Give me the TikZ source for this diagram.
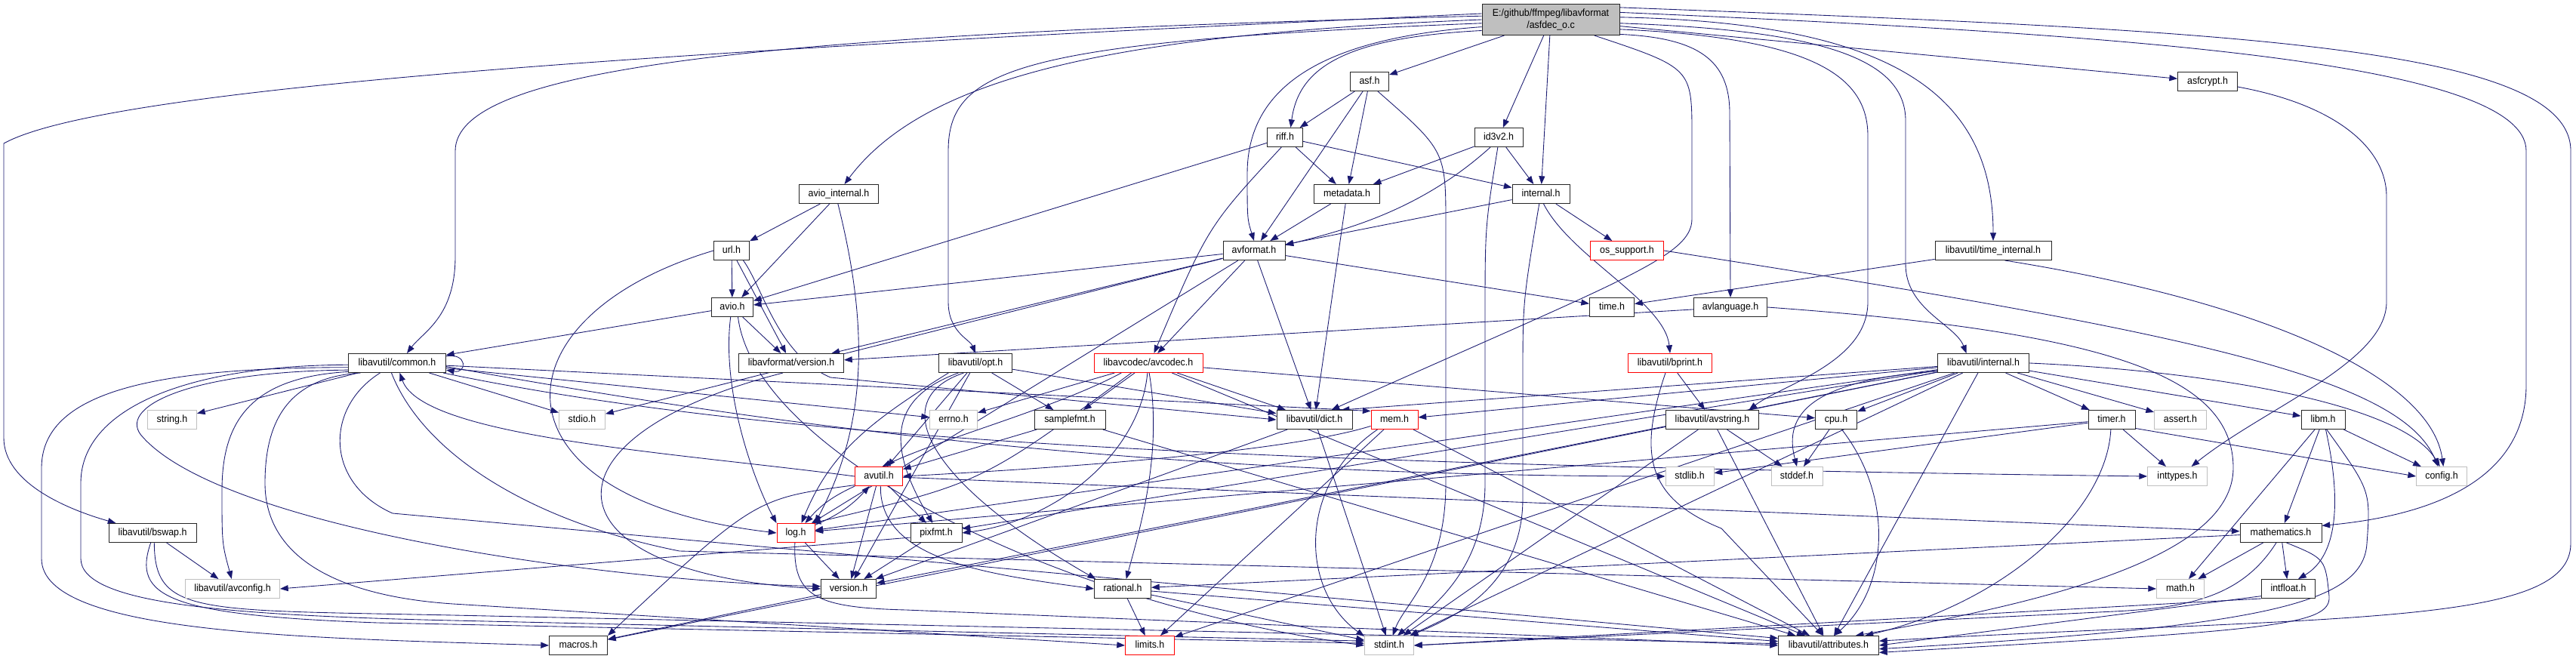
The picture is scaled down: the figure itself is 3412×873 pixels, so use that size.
\documentclass[tikz,border=0pt]{standalone}
\usepackage{fontspec}
\newfontfamily\dotfont{Liberation Sans}[FakeStretch=0.93]
\usepackage{xcolor}
\definecolor{edgeblue}{RGB}{25,25,112}
\definecolor{sysgray}{RGB}{191,191,191}
\definecolor{cutred}{RGB}{255,0,0}
\usetikzlibrary{arrows.meta}
\pgfdeclarelayer{paper}
\pgfdeclarelayer{links}
\pgfsetlayers{paper,links,main}
\tikzset{
  hdr/.style={draw=black!85,line width=0.75pt,fill=white,%
    font=\dotfont\fontsize{10pt}{12pt}\selectfont,inner sep=0pt,%
    minimum height=18.75pt,text height=7.4pt,text depth=2.1pt},
  sys/.style={hdr,draw=sysgray},
  trunc/.style={hdr,draw=cutred},
  src/.style={draw=black!85,line width=0.75pt,fill=sysgray,%
    font=\dotfont\fontsize{10pt}{11.5pt}\selectfont,inner sep=0pt,%
    minimum height=30.75pt,align=center},
  wd/.style={minimum width=#1*0.75pt},
  dep/.style={draw=edgeblue,line width=0.65pt,-{Triangle[length=8pt,width=6pt]}},
}

\begin{document}
\begin{tikzpicture}[x=0.75pt,y=0.75pt]
\useasboundingbox (0,0) rectangle (3412,-873);
\begin{pgfonlayer}{paper}
\fill[white] (0,0) rectangle (3412,-873);
\end{pgfonlayer}

\node[src,wd=182] (root) at (2054,-26) {E:/github/ffmpeg/libavformat\\/asfdec\_o.c};
\node[hdr,wd=51] (asf) at (1814,-108) {asf.h};
\node[hdr,wd=79] (asfcrypt) at (2924,-108) {asfcrypt.h};
\node[hdr,wd=47] (riff) at (1702,-182) {riff.h};
\node[hdr,wd=64] (idtag) at (1985,-182) {id3v2.h};
\node[hdr,wd=105] (avioint) at (1111,-257) {avio\_internal.h};
\node[hdr,wd=87] (meta) at (1784,-257) {metadata.h};
\node[hdr,wd=76] (lavfint) at (2041,-257) {internal.h};
\node[hdr,wd=47] (url) at (969,-332) {url.h};
\node[hdr,wd=82] (avformat) at (1661,-332) {avformat.h};
\node[trunc,wd=97] (ossup) at (2155,-332) {os\_support.h};
\node[hdr,wd=154] (timeint) at (2640,-332) {libavutil/time\_internal.h};
\node[hdr,wd=55] (avio) at (970,-407) {avio.h};
\node[hdr,wd=59] (timeh) at (2135,-407) {time.h};
\node[hdr,wd=97] (avlang) at (2292,-407) {avlanguage.h};
\node[hdr,wd=129] (common) at (526,-481) {libavutil/common.h};
\node[hdr,wd=139] (lavfver) at (1048,-481) {libavformat/version.h};
\node[hdr,wd=97] (opt) at (1292,-481) {libavutil/opt.h};
\node[trunc,wd=144] (avcodec) at (1521,-481) {libavcodec/avcodec.h};
\node[trunc,wd=111] (bprint) at (2212,-481) {libavutil/bprint.h};
\node[hdr,wd=121] (lavuint) at (2627,-481) {libavutil/internal.h};
\node[sys,wd=65] (stringh) at (228,-556) {string.h};
\node[sys,wd=61] (stdioh) at (771,-556) {stdio.h};
\node[sys,wd=63] (errnoh) at (1263,-556) {errno.h};
\node[hdr,wd=94] (samplefmt) at (1417,-556) {samplefmt.h};
\node[hdr,wd=100] (dict) at (1741,-556) {libavutil/dict.h};
\node[trunc,wd=62] (mem) at (1847,-556) {mem.h};
\node[hdr,wd=123] (avstring) at (2268,-556) {libavutil/avstring.h};
\node[hdr,wd=55] (cpu) at (2432,-556) {cpu.h};
\node[hdr,wd=62] (timer) at (2797,-556) {timer.h};
\node[sys,wd=69] (asserth) at (2888,-556) {assert.h};
\node[hdr,wd=58] (libm) at (3077,-556) {libm.h};
\node[trunc,wd=63] (avutil) at (1164,-631) {avutil.h};
\node[sys,wd=64] (stdlibh) at (2238,-631) {stdlib.h};
\node[sys,wd=68] (stddefh) at (2380,-631) {stddef.h};
\node[sys,wd=79] (inttypes) at (2884,-631) {inttypes.h};
\node[sys,wd=67] (configh) at (3234,-631) {config.h};
\node[hdr,wd=116] (bswap) at (202,-706) {libavutil/bswap.h};
\node[trunc,wd=50] (logh) at (1054,-706) {log.h};
\node[hdr,wd=68] (pixfmt) at (1240,-706) {pixfmt.h};
\node[hdr,wd=108] (mathem) at (3021,-706) {mathematics.h};
\node[sys,wd=125] (avconfig) at (308,-780) {libavutil/avconfig.h};
\node[hdr,wd=73] (version) at (1124,-780) {version.h};
\node[hdr,wd=75] (rational) at (1487,-780) {rational.h};
\node[sys,wd=63] (mathh) at (2888,-780) {math.h};
\node[hdr,wd=71] (intfloat) at (3031,-780) {intfloat.h};
\node[hdr,wd=77] (macros) at (766,-855) {macros.h};
\node[trunc,wd=65] (limitsh) at (1523,-855) {limits.h};
\node[sys,wd=65] (stdinth) at (1840,-855) {stdint.h};
\node[hdr,wd=133] (attrib) at (2422,-855) {libavutil/attributes.h};

\begin{pgfonlayer}{links}
\draw[dep] (root.175) .. controls (1000,-62) and (150,-110) .. (5,-190) -- (5,-580) .. controls (5,-640) and (90,-675) .. (bswap.165);
\draw[dep] (root.177) .. controls (1000,-45) and (603,-90) .. (603,-200) -- (603,-340) .. controls (603,-420) and (560,-440) .. (common.45);
\draw[dep] (root.180) .. controls (1500,-45) and (1230,-95) .. (avioint.60);
\draw[dep] (root.183) .. controls (1350,-55) and (1256,-90) .. (1256,-200) -- (1256,-400) .. controls (1256,-440) and (1285,-450) .. (opt.north);
\draw[dep] (root.186) .. controls (1760,-50) and (1652,-110) .. (1652,-230) .. controls (1652,-290) .. (avformat.north);
\draw[dep] (root.189) .. controls (1780,-50) and (1720,-90) .. (riff.60);
\draw[dep] (root) -- (asf);
\draw[dep] (root) -- (idtag);
\draw[dep] (root) -- (lavfint);
\draw[dep] (root.-20) .. controls (2241,-90) .. (2241,-180) -- (2241,-290) .. controls (2241,-340) and (2150,-370) .. (dict.30);
\draw[dep] (root.-12) .. controls (2250,-50) and (2291,-80) .. (2291,-150) -- (avlang.north);
\draw[dep] (root.-8) .. controls (2400,-50) and (2474,-100) .. (2474,-180) -- (2474,-400) .. controls (2474,-480) and (2360,-510) .. (avstring.15);
\draw[dep] (root.-3) .. controls (2420,-40) and (2524,-80) .. (2524,-160) -- (2524,-350) .. controls (2524,-410) and (2590,-430) .. (lavuint.150);
\draw[dep] (root.2) .. controls (2500,-30) and (2640,-120) .. (timeint.north);
\draw[dep] (root) -- (asfcrypt);
\draw[dep] (root.6) .. controls (2800,-45) and (3346,-80) .. (3346,-200) -- (3346,-510) .. controls (3346,-620) and (3250,-680) .. (mathem.10);
\draw[dep] (root.10) .. controls (2950,-40) and (3405,-60) .. (3405,-200) -- (3405,-720) .. controls (3405,-830) and (3100,-815) .. (attrib.5);

\draw[dep] (asf) -- (riff);
\draw[dep] (asf) -- (meta);
\draw[dep] (asf) -- (avformat);
\draw[dep] (asf.-50) .. controls (1915,-200) .. (1915,-300) -- (1915,-640) .. controls (1915,-760) and (1860,-800) .. (stdinth.70);
\draw[dep] (riff) -- (meta);
\draw[dep] (riff) -- (lavfint);
\draw[dep] (riff) -- (avio);
\draw[dep] (riff.-110) .. controls (1600,-300) .. (avcodec.60);
\draw[dep] (idtag) -- (meta);
\draw[dep] (idtag.-130) .. controls (1880,-280) and (1780,-305) .. (avformat.10);
\draw[dep] (idtag) -- (lavfint);
\draw[dep] (idtag.-95) .. controls (1967,-300) .. (1967,-420) -- (1967,-640) .. controls (1967,-760) and (1890,-810) .. (stdinth.50);
\draw[dep] (meta) -- (avformat);
\draw[dep] (meta) -- (dict);
\draw[dep] (lavfint) -- (avformat);
\draw[dep] (lavfint) -- (ossup);
\draw[dep] (lavfint.-100) .. controls (2017,-400) .. (2017,-500) -- (2017,-660) .. controls (2017,-780) and (1920,-820) .. (stdinth.25);
\draw[dep] (lavfint.-75) .. controls (2080,-340) and (2205,-400) .. (bprint.north);
\draw[dep] (avioint) -- (url);
\draw[dep] (avioint) -- (avio);
\draw[dep] (avioint.-95) .. controls (1150,-430) and (1150,-560) .. (logh.north east);
\draw[dep] (url) -- (avio);
\draw[dep] (url) -- (lavfver);
\draw[dep] (url.west) .. controls (650,-420) and (640,-660) .. (logh.west);
\draw[dep] (url.-40) .. controls (1010,-380) and (1030,-470) .. (1100,-500) -- (dict.west);
\draw[dep] (avio) -- (common);
\draw[dep] (avio) -- (lavfver);
\draw[dep] (avio.-100) .. controls (955,-520) and (1000,-640) .. (logh.north west);
\draw[dep] (avio.-60) .. controls (1000,-600) and (1400,-800) .. (stdinth.west);
\draw[dep] (avformat) -- (avio);
\draw[dep] (avformat) -- (lavfver);
\draw[dep] (avformat) -- (stdioh);
\draw[dep] (avformat) -- (avcodec);
\draw[dep] (avformat) -- (dict);
\draw[dep] (avformat) -- (logh);
\draw[dep] (avformat) -- (timeh);
\draw[dep] (ossup.east) .. controls (2900,-440) and (3180,-500) .. (configh.110);
\draw[dep] (timeint) -- (timeh);
\draw[dep] (timeint.-40) .. controls (3000,-400) and (3220,-500) .. (configh.80);
\draw[dep] (avlang) -- (lavfver);
\draw[dep] (avlang.east) .. controls (2800,-440) and (2958,-500) .. (2958,-620) .. controls (2958,-740) and (2700,-800) .. (attrib.20);
\draw[dep] (lavfver.-130) .. controls (700,-580) and (720,-760) .. (version.west);

\draw[dep] (common.8) to[out=10,in=-10,looseness=4] (common.-8);
\draw[dep] (common) -- (stringh);
\draw[dep] (common) -- (stdioh);
\draw[dep] (common) -- (errnoh);
\draw[dep] (common) -- (mem.160);
\draw[dep] (common.190) .. controls (330,-500) and (294,-560) .. (294,-650) .. controls (294,-720) .. (avconfig.95);
\draw[dep] (common.185) .. controls (200,-487) and (55,-520) .. (55,-620) -- (55,-740) .. controls (55,-840) and (400,-845) .. (macros.west);
\draw[dep] (common.182) .. controls (250,-484) and (107,-540) .. (107,-640) -- (107,-740) .. controls (107,-800) and (300,-815) .. (600,-822) -- (stdinth.170);
\draw[dep] (common.188) .. controls (250,-492) and (150,-540) .. (190,-580) .. controls (300,-700) and (800,-770) .. (version.175);
\draw[dep] (common.195) .. controls (380,-500) and (351,-560) .. (351,-640) .. controls (351,-740) and (450,-790) .. (600,-800) -- (limitsh.west);
\draw[dep] (common.-150) .. controls (430,-540) and (430,-640) .. (520,-680) -- (attrib.172);
\draw[dep] (common.-120) .. controls (560,-600) and (700,-690) .. (900,-730) -- (mathh.west);
\draw[dep] (common.-4) .. controls (1000,-560) and (1500,-630) .. (stdlibh.west);
\draw[dep] (common.-12) .. controls (1000,-580) and (1600,-615) .. (inttypes.west);

\draw[dep] (opt) -- (samplefmt);
\draw[dep] (opt) -- (dict);
\draw[dep] (opt) -- (avutil);
\draw[dep] (opt.-160) .. controls (1150,-560) and (1100,-600) .. (logh.60);
\draw[dep] (opt) -- (version);
\draw[dep] (opt.-150) .. controls (1170,-530) and (1180,-600) .. (pixfmt.110);
\draw[dep] (opt.-140) .. controls (1170,-530) and (1230,-640) .. (rational.160);
\draw[dep] (avcodec) -- (errnoh);
\draw[dep] (avcodec) -- (samplefmt);
\draw[dep] (avcodec) -- (dict);
\draw[dep] (avcodec) -- (cpu);
\draw[dep] (avcodec.-160) .. controls (1400,-540) and (1250,-580) .. (avutil.70);
\draw[dep] (avcodec.-95) .. controls (1510,-600) and (1400,-690) .. (pixfmt.east);
\draw[dep] (avcodec.-85) .. controls (1540,-600) and (1510,-700) .. (rational.70);
\draw[dep] (avcodec.-150) .. controls (1300,-640) .. (logh.30);
\draw[dep] (avcodec) -- (attrib);
\draw[dep] (samplefmt) -- (avutil);
\draw[dep] (samplefmt) -- (attrib);
\draw[dep] (pixfmt) -- (version);
\draw[dep] (pixfmt.190) -- (avconfig.east);
\draw[dep] (rational) -- (limitsh);
\draw[dep] (rational) -- (stdinth);
\draw[dep] (rational) -- (attrib);
\draw[dep] (dict) -- (stdinth);
\draw[dep] (dict) -- (version);
\draw[dep] (mem.-165) .. controls (1700,-600) and (1400,-620) .. (avutil.east);
\draw[dep] (mem.-150) .. controls (1720,-640) and (1720,-780) .. (stdinth.160);
\draw[dep] (mem) -- (attrib);
\draw[dep] (mem) -- (limitsh);
\draw[dep] (avutil.west) .. controls (900,-600) and (560,-580) .. (common.-75);
\draw[dep] (avutil) to[bend right=12] (logh);
\draw[dep] (logh) to[bend right=12] (avutil);
\draw[dep] (avutil) -- (version);
\draw[dep] (avutil) -- (pixfmt);
\draw[dep] (avutil.-160) .. controls (1000,-660) .. (macros.north east);
\draw[dep] (avutil) -- (mathem);
\draw[dep] (avutil.-80) .. controls (1165,-740) and (1300,-760) .. (rational.west);
\draw[dep] (logh) -- (version);
\draw[dep] (logh.-95) .. controls (1050,-790) and (1080,-805) .. (1200,-808) -- (attrib.west);
\draw[dep] (version) -- (macros);

\draw[dep] (lavuint) -- (cpu);
\draw[dep] (lavuint) -- (timer);
\draw[dep] (lavuint) -- (asserth);
\draw[dep] (lavuint) -- (libm);
\draw[dep] (lavuint.190) .. controls (2380,-505) and (2365,-560) .. (stddefh.north);
\draw[dep] (lavuint.east) .. controls (2900,-490) and (3180,-530) .. (configh.100);
\draw[dep] (lavuint) -- (attrib);
\draw[dep] (lavuint) -- (mem);
\draw[dep] (lavuint) -- (dict.20);
\draw[dep] (lavuint) -- (logh);
\draw[dep] (lavuint) -- (pixfmt);
\draw[dep] (lavuint) -- (version);
\draw[dep] (lavuint) -- (macros);
\draw[dep] (lavuint) -- (limitsh);
\draw[dep] (lavuint) -- (stdinth);
\draw[dep] (avstring) -- (stddefh);
\draw[dep] (avstring) -- (attrib);
\draw[dep] (avstring) -- (stdinth);
\draw[dep] (bprint) -- (avstring);
\draw[dep] (bprint.-115) .. controls (2170,-600) and (2180,-660) .. (2280,-700) -- (attrib.120);
\draw[dep] (cpu) -- (stddefh);
\draw[dep] (cpu.-60) .. controls (2510,-660) and (2500,-780) .. (attrib.60);
\draw[dep] (timer) -- (stdlibh);
\draw[dep] (timer) -- (inttypes);
\draw[dep] (timer.-20) -- (configh.west);
\draw[dep] (timer) -- (logh);
\draw[dep] (timer.-95) .. controls (2790,-680) and (2650,-800) .. (attrib.15);
\draw[dep] (libm) -- (mathh);
\draw[dep] (libm) -- (mathem);
\draw[dep] (libm.-75) .. controls (3105,-680) and (3090,-740) .. (intfloat.45);
\draw[dep] (libm) -- (configh);
\draw[dep] (libm.-70) .. controls (3140,-650) .. (3135,-720) .. controls (3130,-800) and (3000,-830) .. (attrib.-4);
\draw[dep] (mathem) -- (mathh);
\draw[dep] (mathem) -- (intfloat);
\draw[dep] (mathem.-60) .. controls (3080,-740) .. (3085,-790) .. controls (3088,-830) and (3000,-835) .. (attrib.-8);
\draw[dep] (mathem.-115) .. controls (2970,-790) and (2900,-805) .. (2800,-810) -- (stdinth.east);
\draw[dep] (mathem) -- (rational);
\draw[dep] (intfloat.south west) -- (stdinth.east);
\draw[dep] (intfloat.-165) -- (attrib.east);
\draw[dep] (asfcrypt.-10) .. controls (3100,-140) and (3161,-200) .. (3161,-260) -- (3161,-400) .. controls (3161,-480) and (3000,-540) .. (inttypes.35);
\draw[dep] (bswap) -- (avconfig);
\draw[dep] (bswap.-100) .. controls (175,-790) and (220,-815) .. (500,-825) -- (stdinth.175);
\draw[dep] (bswap.-80) .. controls (205,-815) and (260,-808) .. (600,-815) -- (attrib.178);
\end{pgfonlayer}
\end{tikzpicture}
\end{document}
